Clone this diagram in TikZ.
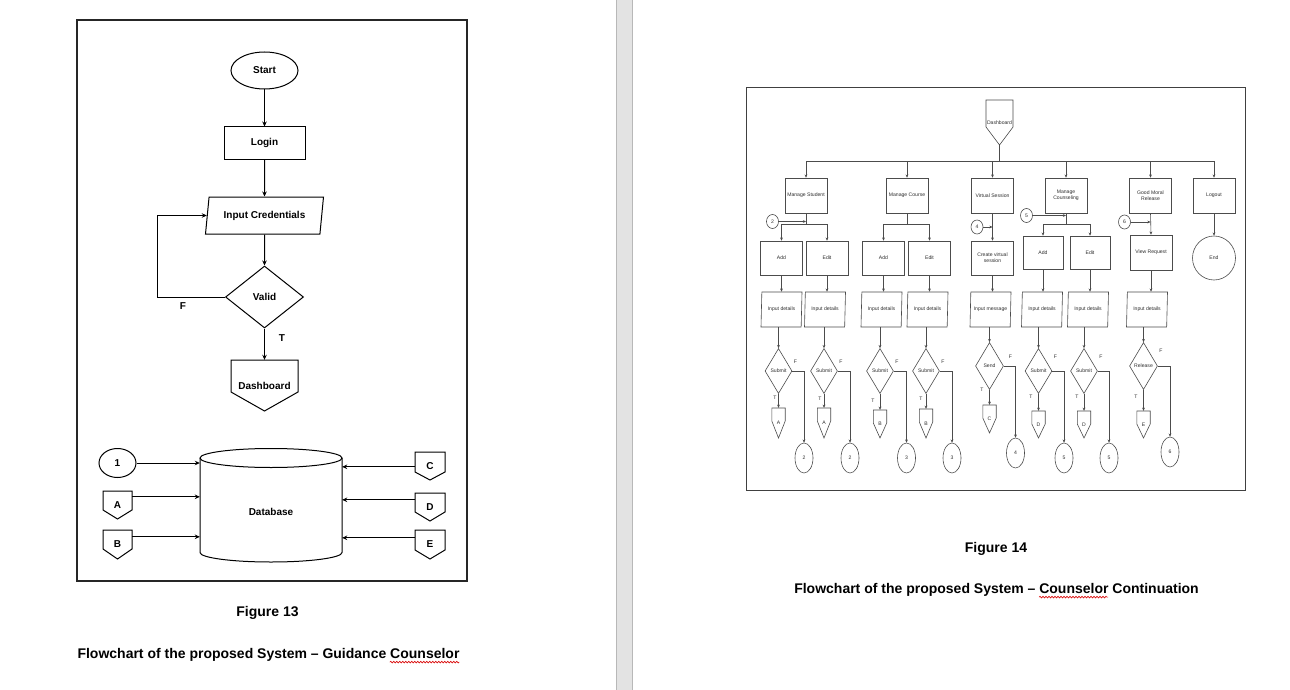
\documentclass[tikz,border=0pt]{standalone}
\usepackage{fontspec}
\setmainfont{Liberation Sans}
\usetikzlibrary{shapes.geometric,arrows.meta,decorations.pathmorphing,calc}
% off-page connector: draw style, node style, name, cx, top, half width, rect height, tip height, text
\newcommand{\offpg}[9]{%
  \draw[#1] (#4-#6,#5) -- (#4+#6,#5) -- (#4+#6,#5+#7) -- (#4,#5+#7+#8) -- (#4-#6,#5+#7) -- cycle;
  \node[#2, inner sep=0pt, minimum width={2*#6*1pt}, minimum height={(#7+#8)*1pt}] (#3) at (#4,#5+#7/2+#8/2) {#9};}
\tikzset{
  lline/.style={line width=1pt, black},
  larr/.style={lline, -{Stealth[length=5pt,width=4.5pt]}},
  lfont/.style={font=\fontsize{10}{11.5}\selectfont\bfseries},
  rline/.style={line width=0.6pt, black!70},
  rarr/.style={rline, -{Stealth[length=3.2pt,width=2.8pt]}},
  rfont/.style={font=\fontsize{5.1}{5.9}\selectfont, text=black!82},
  rlab/.style={rfont, inner sep=0pt},
  rbox/.style={rectangle, draw, rline, rfont, minimum width=42pt, minimum height=35pt, align=center, inner sep=1pt},
  rbox2/.style={rbox, minimum height=34pt},
  rbox3/.style={rbox, minimum width=40pt, minimum height=33pt},
  rpara/.style={trapezium, trapezium left angle=80, trapezium right angle=100, trapezium stretches body, draw, rline, rfont, minimum width=41pt, minimum height=35pt, inner sep=0pt},
  rdia/.style={diamond, draw, rline, rfont, minimum width=27pt, minimum height=45pt, inner sep=0pt},
  rdia2/.style={rdia, minimum width=28pt, minimum height=47pt},
  rcirc/.style={ellipse, draw, rline, rfont, minimum width=18pt, minimum height=30pt, inner sep=0pt},
  rsc/.style={ellipse, draw, rline, rfont, minimum width=12pt, minimum height=14pt, inner sep=0pt},
  caption/.style={font=\fontsize{14}{17}\selectfont\bfseries, inner sep=0pt},
  squig/.style={red!85!black, line width=0.6pt, decorate, decoration={snake, amplitude=0.9pt, segment length=3pt}},
}
\begin{document}
\begin{tikzpicture}[x=1pt,y=-1pt]
\useasboundingbox (0,0) rectangle (1290,690);
\fill[white] (0,0) rectangle (1290,690);
% page separator
\fill[black!11] (616,0) rectangle (632,690);
\draw[black!28, line width=0.8pt] (616,0) -- (616,690);
\draw[black!28, line width=0.8pt] (632,0) -- (632,690);

% ================= LEFT FIGURE =================
\draw[line width=1.2pt, black!85] (77,20) rectangle (467,581);
\node[ellipse, draw, lline, lfont, minimum width=67pt, minimum height=37pt, inner sep=0pt] (start) at (264.5,70.5) {Start};
\node[rectangle, draw, lline, lfont, minimum width=81pt, minimum height=32pt] (login) at (264.5,143) {Login};
\node[trapezium, trapezium left angle=69, trapezium right angle=111, trapezium stretches body, draw, lline, lfont, minimum width=118pt, minimum height=37pt, inner sep=0pt] (ic) at (264.5,215.5) {Input Credentials};
\node[diamond, draw, lline, lfont, minimum width=78pt, minimum height=62pt, inner sep=0pt] (valid) at (264.5,297) {Valid};
\offpg{lline}{lfont}{dashL}{264.5}{360}{33.5}{32}{19}{Dashboard}
\draw[larr] (start) -- (login);
\draw[larr] (login) -- (ic);
\draw[larr] (ic) -- (valid);
\draw[larr] (valid) -- (dashL);
\draw[larr] (valid.west) -- ++(-68,0) |- (ic.left side);
\node[lfont] (lF) at (183,306) {F};
\node[lfont] (lT) at (282,338) {T};

% database
\draw[lline] (271,458) ellipse [x radius=71, y radius=9.5];
\draw[lline] (200,458) -- (200,552.5) arc[start angle=180, end angle=0, x radius=71, y radius=9.5] -- (342,458);
\node[lfont, minimum width=142pt, inner sep=0pt] (db) at (271,512) {Database};
\node[ellipse, draw, lline, lfont, minimum width=37pt, minimum height=29pt, inner sep=0pt] (c1) at (117.5,463) {1};
\offpg{lline}{lfont}{oA}{117.5}{491}{14.5}{19}{9}{A}
\offpg{lline}{lfont}{oB}{117.5}{530}{14.5}{19}{10}{B}
\offpg{lline}{lfont}{oC}{430}{452}{15}{20}{8}{C}
\offpg{lline}{lfont}{oD}{430}{493}{15}{19}{9}{D}
\offpg{lline}{lfont}{oE}{430}{530}{15}{20}{9}{E}
\coordinate (pA) at ([yshift=-6pt]oA.north east);
\coordinate (pB) at ([yshift=-7pt]oB.north east);
\coordinate (pC) at ([yshift=-15pt]oC.north west);
\coordinate (pD) at ([yshift=-7pt]oD.north west);
\coordinate (pE) at ([yshift=-8pt]oE.north west);
\draw[larr] (c1.east) -- (c1.east -| db.west);
\draw[larr] (pA) -- (pA -| db.west);
\draw[larr] (pB) -- (pB -| db.west);
\draw[larr] (pC) -- (pC -| db.east);
\draw[larr] (pD) -- (pD -| db.east);
\draw[larr] (pE) -- (pE -| db.east);

\node[caption] (cap13a) at (267.5,613) {Figure 13};
\node[caption] (cap13b) at (268.5,655) {Flowchart of the proposed System – Guidance Counselor};
\draw[squig] ($(cap13b.base west)+(312.5,3.5)$) -- ($(cap13b.base west)+(382,3.5)$);

% ================= RIGHT FIGURE =================
\draw[line width=1pt, black!75] (746,88) rectangle (1245,490);
\offpg{rline}{rfont}{rdash}{999.5}{100}{13.5}{27}{18}{Dashboard}
\node[rbox] (ms)  at (806,195.5)   {Manage Student};
\node[rbox] (mc)  at (907,195.5)   {Manage Course};
\node[rbox] (vs)  at (992.5,195.5) {Virtual Session};
\node[rbox] (mco) at (1066,195.5)  {Manage\\Counseling};
\node[rbox] (gm)  at (1150.5,195.5){Good Moral\\Release};
\node[rbox] (lo)  at (1214,195.5)  {Logout};
\coordinate (bus) at (999.5,161);
\draw[rline] (rdash.south) -- (bus);
\draw[rline] (bus -| ms.north) -- (bus -| lo.north);
\foreach \n in {ms,mc,vs,mco,gm,lo} \draw[rarr] (bus -| \n.north) -- (\n.north);

\node[rbox2] (addMS)  at (781.5,258) {Add};
\node[rbox2] (editMS) at (827,258)   {Edit};
\node[rbox2] (addMC)  at (883.5,258) {Add};
\node[rbox2] (editMC) at (929.5,258) {Edit};
\node[rbox2] (cvs)    at (992.5,258) {Create virtual\\session};
\node[rbox3] (addCo)  at (1043,252.5) {Add};
\node[rbox3] (editCo) at (1090,252.5) {Edit};
\node[rbox]  (vr) at (1151,252.5) {View Request};
\node[ellipse, draw, rline, rfont, minimum width=43pt, minimum height=44pt, inner sep=0pt] (rend) at (1214,258) {End};

\coordinate (jms) at (806,224);
\coordinate (jmc) at (907,224);
\coordinate (jco) at (1066,224);
\draw[rline] (ms.south) -- (jms);
\draw[rarr] (jms) -| (addMS.north);
\draw[rarr] (jms) -| (editMS.north);
\draw[rline] (mc.south) -- (jmc);
\draw[rarr] (jmc) -| (addMC.north);
\draw[rarr] (jmc) -| (editMC.north);
\draw[rline] (mco.south) -- (jco);
\draw[rarr] (jco) -| (addCo.north);
\draw[rarr] (jco) -| (editCo.north);
\draw[rarr] (vs.south) -- (cvs.north);
\draw[rarr] (gm.south) -- (vr.north);
\draw[rarr] (lo.south) -- (rend.north);

\node[rsc] (c2) at (772.5,221.5) {2};
\node[rsc] (c4) at (977,227) {4};
\node[rsc] (c5) at (1026.5,215.5) {5};
\node[rsc] (c6) at (1124.5,222) {6};
\draw[rarr] (c2.east) -- (c2.east -| ms.south);
\draw[rarr] (c4.east) -- (c4.east -| vs.south);
\draw[rarr] (c5.east) -- (c5.east -| mco.south);
\draw[rarr] (c6.east) -- (c6.east -| gm.south);

% input parallelograms
\node[rpara] (ip1) at (781.5,309.5) {Input details};
\node[rpara] (ip2) at (825,309.5)   {Input details};
\node[rpara] (ip3) at (881.5,309.5) {Input details};
\node[rpara] (ip4) at (927.5,309.5) {Input details};
\node[rpara] (ip5) at (990.5,309.5) {Input message};
\node[rpara] (ip6) at (1042,309.5)  {Input details};
\node[rpara] (ip7) at (1088,309.5)  {Input details};
\node[rpara] (ip8) at (1147,309.5)  {Input details};
\draw[rarr] (addMS.south)  -- (addMS.south |- ip1.north);
\draw[rarr] (editMS.south) -- (editMS.south |- ip2.north);
\draw[rarr] (addMC.south)  -- (addMC.south |- ip3.north);
\draw[rarr] (editMC.south) -- (editMC.south |- ip4.north);
\draw[rarr] (cvs.south)    -- (cvs.south |- ip5.north);
\draw[rarr] (addCo.south)  -- (addCo.south |- ip6.north);
\draw[rarr] (editCo.south) -- (editCo.south |- ip7.north);
\draw[rarr] (vr.south)     -- (vr.south |- ip8.north);

% decisions
\node[rdia]  (d1) at (778.5,371) {Submit};
\node[rdia]  (d2) at (824,371)   {Submit};
\node[rdia]  (d3) at (880,371)   {Submit};
\node[rdia]  (d4) at (926,371)   {Submit};
\node[rdia2] (d5) at (989.5,366) {Send};
\node[rdia]  (d6) at (1038.5,371) {Submit};
\node[rdia]  (d7) at (1084,371)  {Submit};
\node[rdia2] (d8) at (1143.5,366) {Release};
\foreach \k in {1,...,8} \draw[rarr] (ip\k.south -| d\k.north) -- (d\k.north);

% off-page connectors (T)
\offpg{rline}{rfont}{o1}{778.5}{408}{6.7}{13}{17}{A}
\offpg{rline}{rfont}{o2}{824}{408}{6.7}{13}{17}{A}
\offpg{rline}{rfont}{o3}{880}{410}{6.7}{13}{15}{B}
\offpg{rline}{rfont}{o4}{926}{409}{6.7}{13}{16}{B}
\offpg{rline}{rfont}{o5}{989.5}{405}{6.7}{13}{15}{C}
\offpg{rline}{rfont}{o6}{1038.5}{411}{6.7}{13}{14}{D}
\offpg{rline}{rfont}{o7}{1084}{411}{6.7}{13}{14}{D}
\offpg{rline}{rfont}{o8}{1143.5}{411}{6.7}{13}{14}{E}
\foreach \k in {1,...,8} \draw[rarr] (d\k.south) -- (o\k.north);

% connectors (F)
\node[rcirc] (f1) at (804,458)    {2};
\node[rcirc] (f2) at (850,458)    {2};
\node[rcirc] (f3) at (906.5,458)  {3};
\node[rcirc] (f4) at (952,458)    {3};
\node[rcirc] (f5) at (1015.5,453) {4};
\node[rcirc] (f6) at (1064,458)   {5};
\node[rcirc] (f7) at (1109,458)   {5};
\node[rcirc] (f8) at (1170,452)   {6};
\foreach \k in {1,...,8} \draw[rarr] (d\k.east) -| (f\k.north);

% T / F labels
\node[rlab] (F1) at (795.5,362) {F};
\node[rlab] (F2) at (841,362)   {F};
\node[rlab] (F3) at (897,362)   {F};
\node[rlab] (F4) at (943,362)   {F};
\node[rlab] (F5) at (1010.5,357) {F};
\node[rlab] (F6) at (1055.5,357) {F};
\node[rlab] (F7) at (1101,357)  {F};
\node[rlab] (F8) at (1161,351)  {F};
\node[rlab] (T1) at (775,398)   {T};
\node[rlab] (T2) at (820,399)   {T};
\node[rlab] (T3) at (873,401)   {T};
\node[rlab] (T4) at (921,399)   {T};
\node[rlab] (T5) at (982,390)   {T};
\node[rlab] (T6) at (1031,397)  {T};
\node[rlab] (T7) at (1077,397)  {T};
\node[rlab] (T8) at (1136,397)  {T};

\node[caption] (cap14a) at (996,549) {Figure 14};
\node[caption] (cap14b) at (996.5,590) {Flowchart of the proposed System – Counselor Continuation};
\draw[squig] ($(cap14b.base west)+(245,3.5)$) -- ($(cap14b.base west)+(314,3.5)$);
\end{tikzpicture}
\end{document}
